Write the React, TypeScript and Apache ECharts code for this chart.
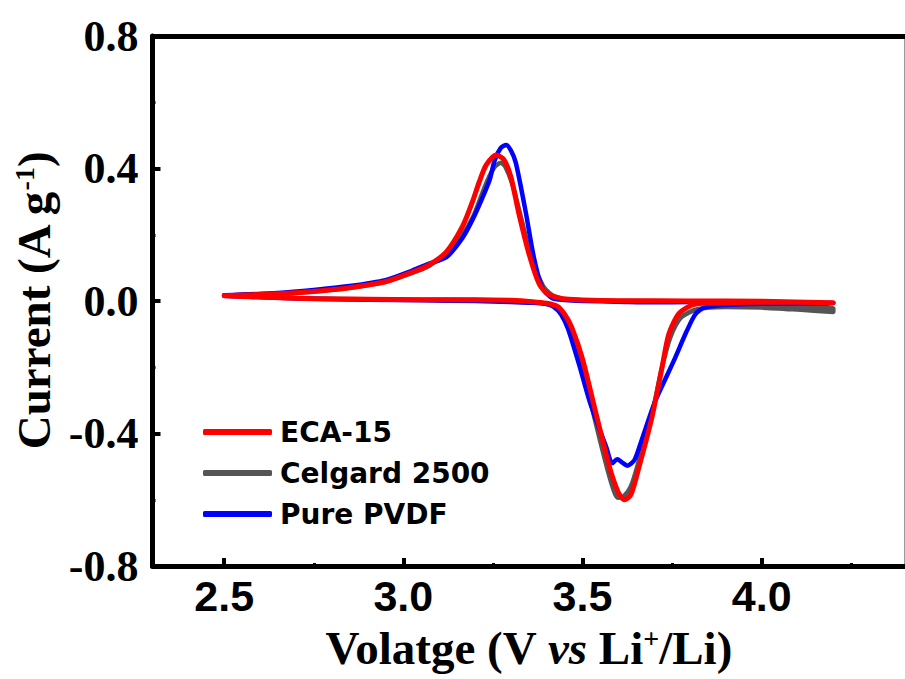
import React, { useEffect, useRef } from "react";
import * as echarts from "echarts";

// ---- Data ----
// ECA-15 (red)
const ecaFwdV = [2.5, 2.6, 2.75, 2.9, 3.05, 3.2, 3.3, 3.36, 3.4, 3.43, 3.45, 3.47, 3.5, 3.54, 3.575, 3.6, 3.617, 3.635, 3.658, 3.694, 3.722, 3.741, 3.77, 3.815, 3.9, 4.0, 4.1, 4.2];
const ecaFwdI = [0.016, 0.012, 0.007, 0.005, 0.004, 0.004, 0.002, -0.002, -0.007, -0.016, -0.04, -0.08, -0.175, -0.35, -0.5, -0.578, -0.6, -0.585, -0.5, -0.35, -0.2, -0.1, -0.037, -0.009, -0.005, -0.004, -0.004, -0.005];
const ecaRevV = [4.2, 4.0, 3.8, 3.6, 3.5, 3.45, 3.435, 3.415, 3.399, 3.378, 3.35, 3.322, 3.3, 3.281, 3.259, 3.231, 3.212, 3.193, 3.165, 3.12, 3.07, 3.02, 2.95, 2.85, 2.75, 2.65, 2.5];
const ecaRevI = [-0.003, -0.001, 0.0, 0.001, 0.003, 0.006, 0.009, 0.015, 0.024, 0.054, 0.145, 0.266, 0.375, 0.426, 0.441, 0.41, 0.36, 0.3, 0.225, 0.148, 0.108, 0.085, 0.058, 0.04, 0.029, 0.022, 0.016];

// Celgard 2500 (gray)
const celFwdV = [2.5, 2.6, 2.75, 2.9, 3.05, 3.2, 3.3, 3.36, 3.4, 3.425, 3.445, 3.465, 3.495, 3.535, 3.57, 3.59, 3.6, 3.615, 3.635, 3.658, 3.694, 3.722, 3.745, 3.775, 3.82, 3.9, 4.0, 4.1, 4.2];
const celFwdI = [0.016, 0.012, 0.007, 0.005, 0.004, 0.003, 0.0, -0.004, -0.009, -0.018, -0.042, -0.085, -0.18, -0.36, -0.51, -0.58, -0.594, -0.59, -0.56, -0.48, -0.34, -0.2, -0.11, -0.05, -0.025, -0.018, -0.02, -0.026, -0.033];
const celRevV = [4.2, 4.0, 3.9, 3.8, 3.6, 3.5, 3.45, 3.43, 3.41, 3.39, 3.36, 3.33, 3.305, 3.285, 3.272, 3.255, 3.235, 3.215, 3.195, 3.165, 3.12, 3.07, 3.02, 2.95, 2.85, 2.75, 2.65, 2.5];
const celRevI = [-0.022, -0.012, -0.006, -0.002, 0.0, 0.002, 0.006, 0.011, 0.022, 0.045, 0.12, 0.245, 0.35, 0.405, 0.417, 0.405, 0.365, 0.31, 0.255, 0.2, 0.145, 0.105, 0.083, 0.058, 0.04, 0.029, 0.022, 0.017];

// Pure PVDF (blue)
const pvdfFwdV = [2.5, 2.6, 2.75, 2.9, 3.05, 3.2, 3.3, 3.36, 3.4, 3.42, 3.44, 3.46, 3.49, 3.519, 3.545, 3.566, 3.583, 3.597, 3.61, 3.625, 3.645, 3.665, 3.7, 3.725, 3.755, 3.79, 3.815, 3.84, 3.9, 4.0, 4.1, 4.2];
const pvdfFwdI = [0.016, 0.012, 0.007, 0.004, 0.002, 0.0, -0.003, -0.005, -0.009, -0.018, -0.04, -0.085, -0.19, -0.3, -0.38, -0.44, -0.49, -0.478, -0.487, -0.497, -0.48, -0.42, -0.31, -0.25, -0.18, -0.093, -0.04, -0.02, -0.012, -0.008, -0.007, -0.006];
const pvdfRevV = [4.2, 4.0, 3.8, 3.7, 3.6, 3.5, 3.45, 3.415, 3.387, 3.364, 3.342, 3.314, 3.3, 3.287, 3.272, 3.255, 3.241, 3.22, 3.193, 3.165, 3.12, 3.07, 3.025, 2.95, 2.85, 2.75, 2.65, 2.5];
const pvdfRevI = [-0.004, -0.003, -0.003, -0.004, -0.002, 0.0, 0.003, 0.009, 0.042, 0.133, 0.266, 0.417, 0.455, 0.471, 0.462, 0.425, 0.366, 0.31, 0.245, 0.19, 0.132, 0.112, 0.092, 0.063, 0.045, 0.033, 0.024, 0.017];

const xMajorTicks = [2.5, 3.0, 3.5, 4.0];
const xMinorTicks = [2.75, 3.25, 3.75, 4.25];

const seriesNames = ["ECA-15", "Celgard 2500", "Pure PVDF"];

function loop(fv: number[], fi: number[], rv: number[], ri: number[]) {
  const pts: number[][] = [];
  fv.forEach((v, k) => pts.push([v, fi[k]]));
  rv.forEach((v, k) => pts.push([v, ri[k]]));
  return pts;
}

const serif = "'Liberation Serif', 'Times New Roman', serif";
const sans = "'DejaVu Sans', 'Liberation Sans', Arial, sans-serif";
const sansAxis = "'Liberation Sans', Arial, sans-serif";

export default function App() {
  const ref = useRef<HTMLDivElement>(null);
  useEffect(() => {
    if (!ref.current) return;
    const chart = echarts.init(ref.current, undefined, { renderer: "svg" });
    const titleRich = {
      t: { fontFamily: serif, fontWeight: "bold", fontSize: 47, color: "#000" },
      i: { fontFamily: serif, fontWeight: "bold", fontStyle: "italic", fontSize: 47, color: "#000" },
      sup: { fontFamily: serif, fontWeight: "bold", fontSize: 28, color: "#000", verticalAlign: "top" },
    };
    const mk = (name: string, color: string, width: number, data: number[][]) => ({
      name,
      type: "line",
      data,
      showSymbol: false,
      symbol: "none",
      smooth: 0.25,
      lineStyle: { color, width, cap: "round", join: "round" },
      itemStyle: { color },
      xAxisIndex: 0,
      yAxisIndex: 0,
    });
    chart.setOption({
      animation: false,
      backgroundColor: "#fff",
      grid: { left: 152.5, right: 0, top: 36, bottom: 113, containLabel: false },
      legend: {
        data: seriesNames,
        orient: "vertical",
        left: 198,
        top: 413,
        icon: "roundRect",
        itemWidth: 69,
        itemHeight: 6,
        itemGap: 13,
        textStyle: { fontFamily: sans, fontWeight: "bold", fontSize: 28, color: "#000", padding: [0, 0, 0, 3] },
      },
      xAxis: [
        {
          type: "value",
          min: 2.3,
          max: 4.4,
          position: "bottom",
          splitLine: { show: false },
          axisLine: { show: true, onZero: false, lineStyle: { color: "#000", width: 5 } },
          axisTick: { show: true, inside: true, length: 8, lineStyle: { color: "#000", width: 4 }, customValues: xMajorTicks },
          axisLabel: {
            customValues: xMajorTicks,
            formatter: (v: number) => v.toFixed(1),
            fontFamily: sansAxis,
            fontWeight: "bold",
            fontSize: 43,
            color: "#000",
            margin: 8,
          },
          name: "{t|Volatge (V }{i|vs}{t| Li}{sup|+}{t|/Li)}",
          nameLocation: "middle",
          nameGap: 58,
          nameTextStyle: { rich: titleRich },
        },
        {
          type: "value",
          min: 2.3,
          max: 4.4,
          position: "top",
          splitLine: { show: false },
          axisLine: { show: true, onZero: false, lineStyle: { color: "#000", width: 5 } },
          axisTick: { show: false },
          axisLabel: { show: false },
        },
        {
          type: "value",
          min: 2.3,
          max: 4.4,
          position: "bottom",
          splitLine: { show: false },
          axisLine: { show: false, onZero: false },
          axisTick: { show: true, inside: true, length: 3, lineStyle: { color: "#000", width: 3 }, customValues: xMinorTicks },
          axisLabel: { show: false, customValues: xMinorTicks },
        },
      ],
      yAxis: [
        {
          type: "value",
          min: -0.8,
          max: 0.8,
          interval: 0.4,
          position: "left",
          splitLine: { show: false },
          axisLine: { show: true, onZero: false, lineStyle: { color: "#000", width: 5 } },
          axisTick: { show: true, inside: true, length: 8, lineStyle: { color: "#000", width: 4 } },
          minorTick: { show: true, splitNumber: 2, length: 3, lineStyle: { color: "#000", width: 3 } },
          axisLabel: {
            formatter: (v: number) => v.toFixed(1),
            fontFamily: serif,
            fontWeight: "bold",
            fontSize: 44,
            color: "#000",
            margin: 14,
          },
          name: "{t|Current (A g}{sup|-1}{t|)}",
          nameLocation: "middle",
          nameRotate: 90,
          nameGap: 95,
          nameTextStyle: { rich: titleRich },
        },
      ],
      graphic: [
        {
          type: "line",
          shape: { x1: 904.5, y1: 34, x2: 904.5, y2: 568 },
          style: { stroke: "#999", lineWidth: 1 },
          silent: true,
        },
      ],
      series: [
        mk("Celgard 2500", "#555555", 4.5, loop(celFwdV, celFwdI, celRevV, celRevI)),
        mk("Pure PVDF", "#0000ff", 4.5, loop(pvdfFwdV, pvdfFwdI, pvdfRevV, pvdfRevI)),
        mk("ECA-15", "#ff0000", 5, loop(ecaFwdV, ecaFwdI, ecaRevV, ecaRevI)),
      ],
    });
    return () => chart.dispose();
  }, []);
  return <div ref={ref} style={{ position: "absolute", left: 0, top: 0, width: 905, height: 679 }} />;
}
